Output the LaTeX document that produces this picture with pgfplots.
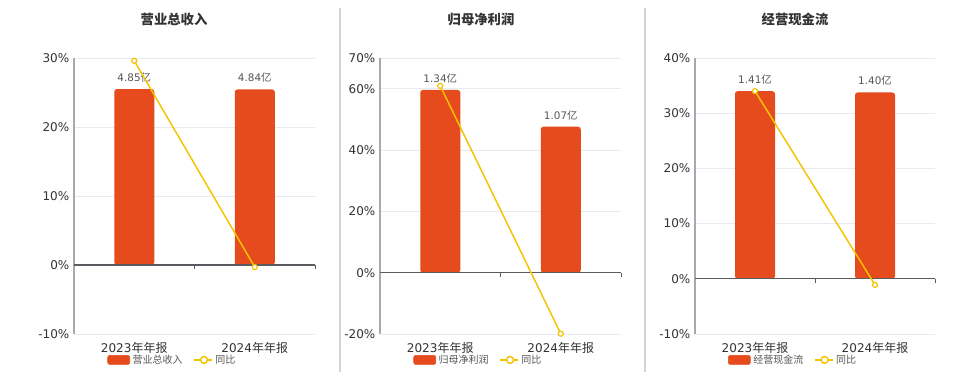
\documentclass[border=0pt]{standalone}
\usepackage{fontspec}
\setmainfont{DejaVu Sans}
\newfontfamily\cjk{Noto Sans CJK SC}
\usepackage{pgfplots}
\pgfplotsset{compat=1.18}
\definecolor{barc}{HTML}{E64B1D}
\definecolor{linec}{HTML}{F5C400}
\definecolor{gridc}{HTML}{E6EAF2}
\definecolor{axc}{HTML}{A8A8B0}
\definecolor{zeroc}{HTML}{5A5A60}
\definecolor{txtc}{HTML}{333333}
\definecolor{labc}{HTML}{555555}
\definecolor{sepc}{HTML}{D4D4D4}
\pgfplotsset{
  /pgf/number format/assume math mode=true,
  base/.style={scale only axis, height=207pt, xmin=-0.5, xmax=1.5, anchor=south west},
  frameax/.style={base,
    axis y line*=left, axis x line*=bottom,
    x axis line style={draw=none},
    y axis line style={draw=axc, line width=0.8pt},
    ymajorgrids, grid style={draw=gridc, line width=0.6pt},
    major tick length=0pt,
    xtick={0,1},
    xticklabels={{2023{\cjk 年年报}},{2024{\cjk 年年报}}},
    x tick label style={yshift=-2.5pt},
    yticklabel={\pgfmathprintnumber{\tick}\%},
    tick label style={font=\fontsize{9}{10}\selectfont, text=txtc},
    legend columns=2,
    legend style={draw=none, fill=none, at={(0.41,-0.094)}, anchor=center,
      font=\cjk\fontsize{7.5}{9}\selectfont, text=labc, inner sep=0pt,
      /tikz/every even column/.append style={column sep=6pt}},
  },
  barax/.style={base, hide axis, ybar, bar width=30pt,
    nodes near coords={\pgfmathprintnumber[fixed,fixed zerofill,precision=2]{\pgfplotspointmeta}{\cjk 亿}},
    nodes near coords style={font=\fontsize{7.8}{9}\selectfont, text=labc, yshift=1.5pt}},
  lineax/.style={base, hide axis, clip=false},
  barimg/.style={legend image code/.code={\fill[barc, rounded corners=1.5pt] (0pt,-3.4pt) rectangle (16.5pt,3.4pt);}},
  lineimg/.style={legend image code/.code={\draw[linec, line width=1.1pt] (0pt,0pt) -- (13.5pt,0pt); \draw[linec, line width=1.1pt, fill=white] (7.5pt,0pt) circle (2.6pt);}},
  barplot/.style={fill=barc, draw=none, rounded corners=2pt},
  lineplot/.style={color=linec, line width=1.1pt, mark=*, mark size=1.9pt, mark options={fill=white, draw=linec, line width=0.9pt}},
}
\begin{document}
\begin{tikzpicture}
\useasboundingbox (0,0) rectangle (720pt,279pt);
\fill[white] (0,0) rectangle (720pt,279pt);
\draw[sepc, line width=0.8pt] (255pt,0pt) -- (255pt,273pt);
\draw[sepc, line width=0.8pt] (483.75pt,0pt) -- (483.75pt,273pt);
\node[font=\cjk\bfseries\fontsize{10}{12}\selectfont, text=txtc] at (130.5pt,264.75pt) {营业总收入};
\node[font=\cjk\bfseries\fontsize{10}{12}\selectfont, text=txtc] at (360.75pt,264.75pt) {归母净利润};
\node[font=\cjk\bfseries\fontsize{10}{12}\selectfont, text=txtc] at (596.25pt,264.75pt) {经营现金流};

% ---------- Panel 1 ----------
\begin{axis}[frameax, at={(55.5pt,28.5pt)}, width=180.75pt, ymin=-10, ymax=30, ytick={-10,0,10,20,30}]
\addlegendimage{barimg}\addlegendentry{营业总收入}
\addlegendimage{lineimg}\addlegendentry{同比}
\end{axis}
\begin{axis}[barax, at={(55.5pt,28.5pt)}, width=180.75pt, ymin=-1.902, ymax=5.706]
\addplot[barplot] coordinates {(0,4.85) (1,4.84)};
\end{axis}
\begin{axis}[lineax, at={(55.5pt,28.5pt)}, width=180.75pt, ymin=-10, ymax=30]
\draw[zeroc, line width=1pt] (axis cs:-0.5,0) -- (axis cs:1.5,0);
\draw[zeroc, line width=0.7pt] (axis cs:0.5,0) -- ++(0pt,-3pt);
\draw[zeroc, line width=0.7pt] (axis cs:1.5,0) -- ++(0pt,-3pt);
\addplot[lineplot] coordinates {(0,29.6) (1,-0.3)};
\end{axis}

% ---------- Panel 2 ----------
\begin{axis}[frameax, at={(285pt,28.5pt)}, width=180.75pt, ymin=-20, ymax=70, ytick={-20,0,20,40,60,70}]
\addlegendimage{barimg}\addlegendentry{归母净利润}
\addlegendimage{lineimg}\addlegendentry{同比}
\end{axis}
\begin{axis}[barax, at={(285pt,28.5pt)}, width=180.75pt, ymin=-0.4497, ymax=1.5738]
\addplot[barplot] coordinates {(0,1.34) (1,1.07)};
\end{axis}
\begin{axis}[lineax, at={(285pt,28.5pt)}, width=180.75pt, ymin=-20, ymax=70]
\draw[zeroc, line width=1pt] (axis cs:-0.5,0) -- (axis cs:1.5,0);
\draw[zeroc, line width=0.7pt] (axis cs:0.5,0) -- ++(0pt,-3pt);
\draw[zeroc, line width=0.7pt] (axis cs:1.5,0) -- ++(0pt,-3pt);
\addplot[lineplot] coordinates {(0,60.9) (1,-19.9)};
\end{axis}

% ---------- Panel 3 ----------
\begin{axis}[frameax, at={(521.25pt,28.5pt)}, width=180pt, ymin=-10, ymax=40, ytick={-10,0,10,20,30,40}]
\addlegendimage{barimg}\addlegendentry{经营现金流}
\addlegendimage{lineimg}\addlegendentry{同比}
\end{axis}
\begin{axis}[barax, at={(521.25pt,28.5pt)}, width=180pt, ymin=-0.4147, ymax=1.6588]
\addplot[barplot] coordinates {(0,1.41) (1,1.40)};
\end{axis}
\begin{axis}[lineax, at={(521.25pt,28.5pt)}, width=180pt, ymin=-10, ymax=40]
\draw[zeroc, line width=1pt] (axis cs:-0.5,0) -- (axis cs:1.5,0);
\draw[zeroc, line width=0.7pt] (axis cs:0.5,0) -- ++(0pt,-3pt);
\draw[zeroc, line width=0.7pt] (axis cs:1.5,0) -- ++(0pt,-3pt);
\addplot[lineplot] coordinates {(0,34.0) (1,-1.1)};
\end{axis}
\end{tikzpicture}
\end{document}
